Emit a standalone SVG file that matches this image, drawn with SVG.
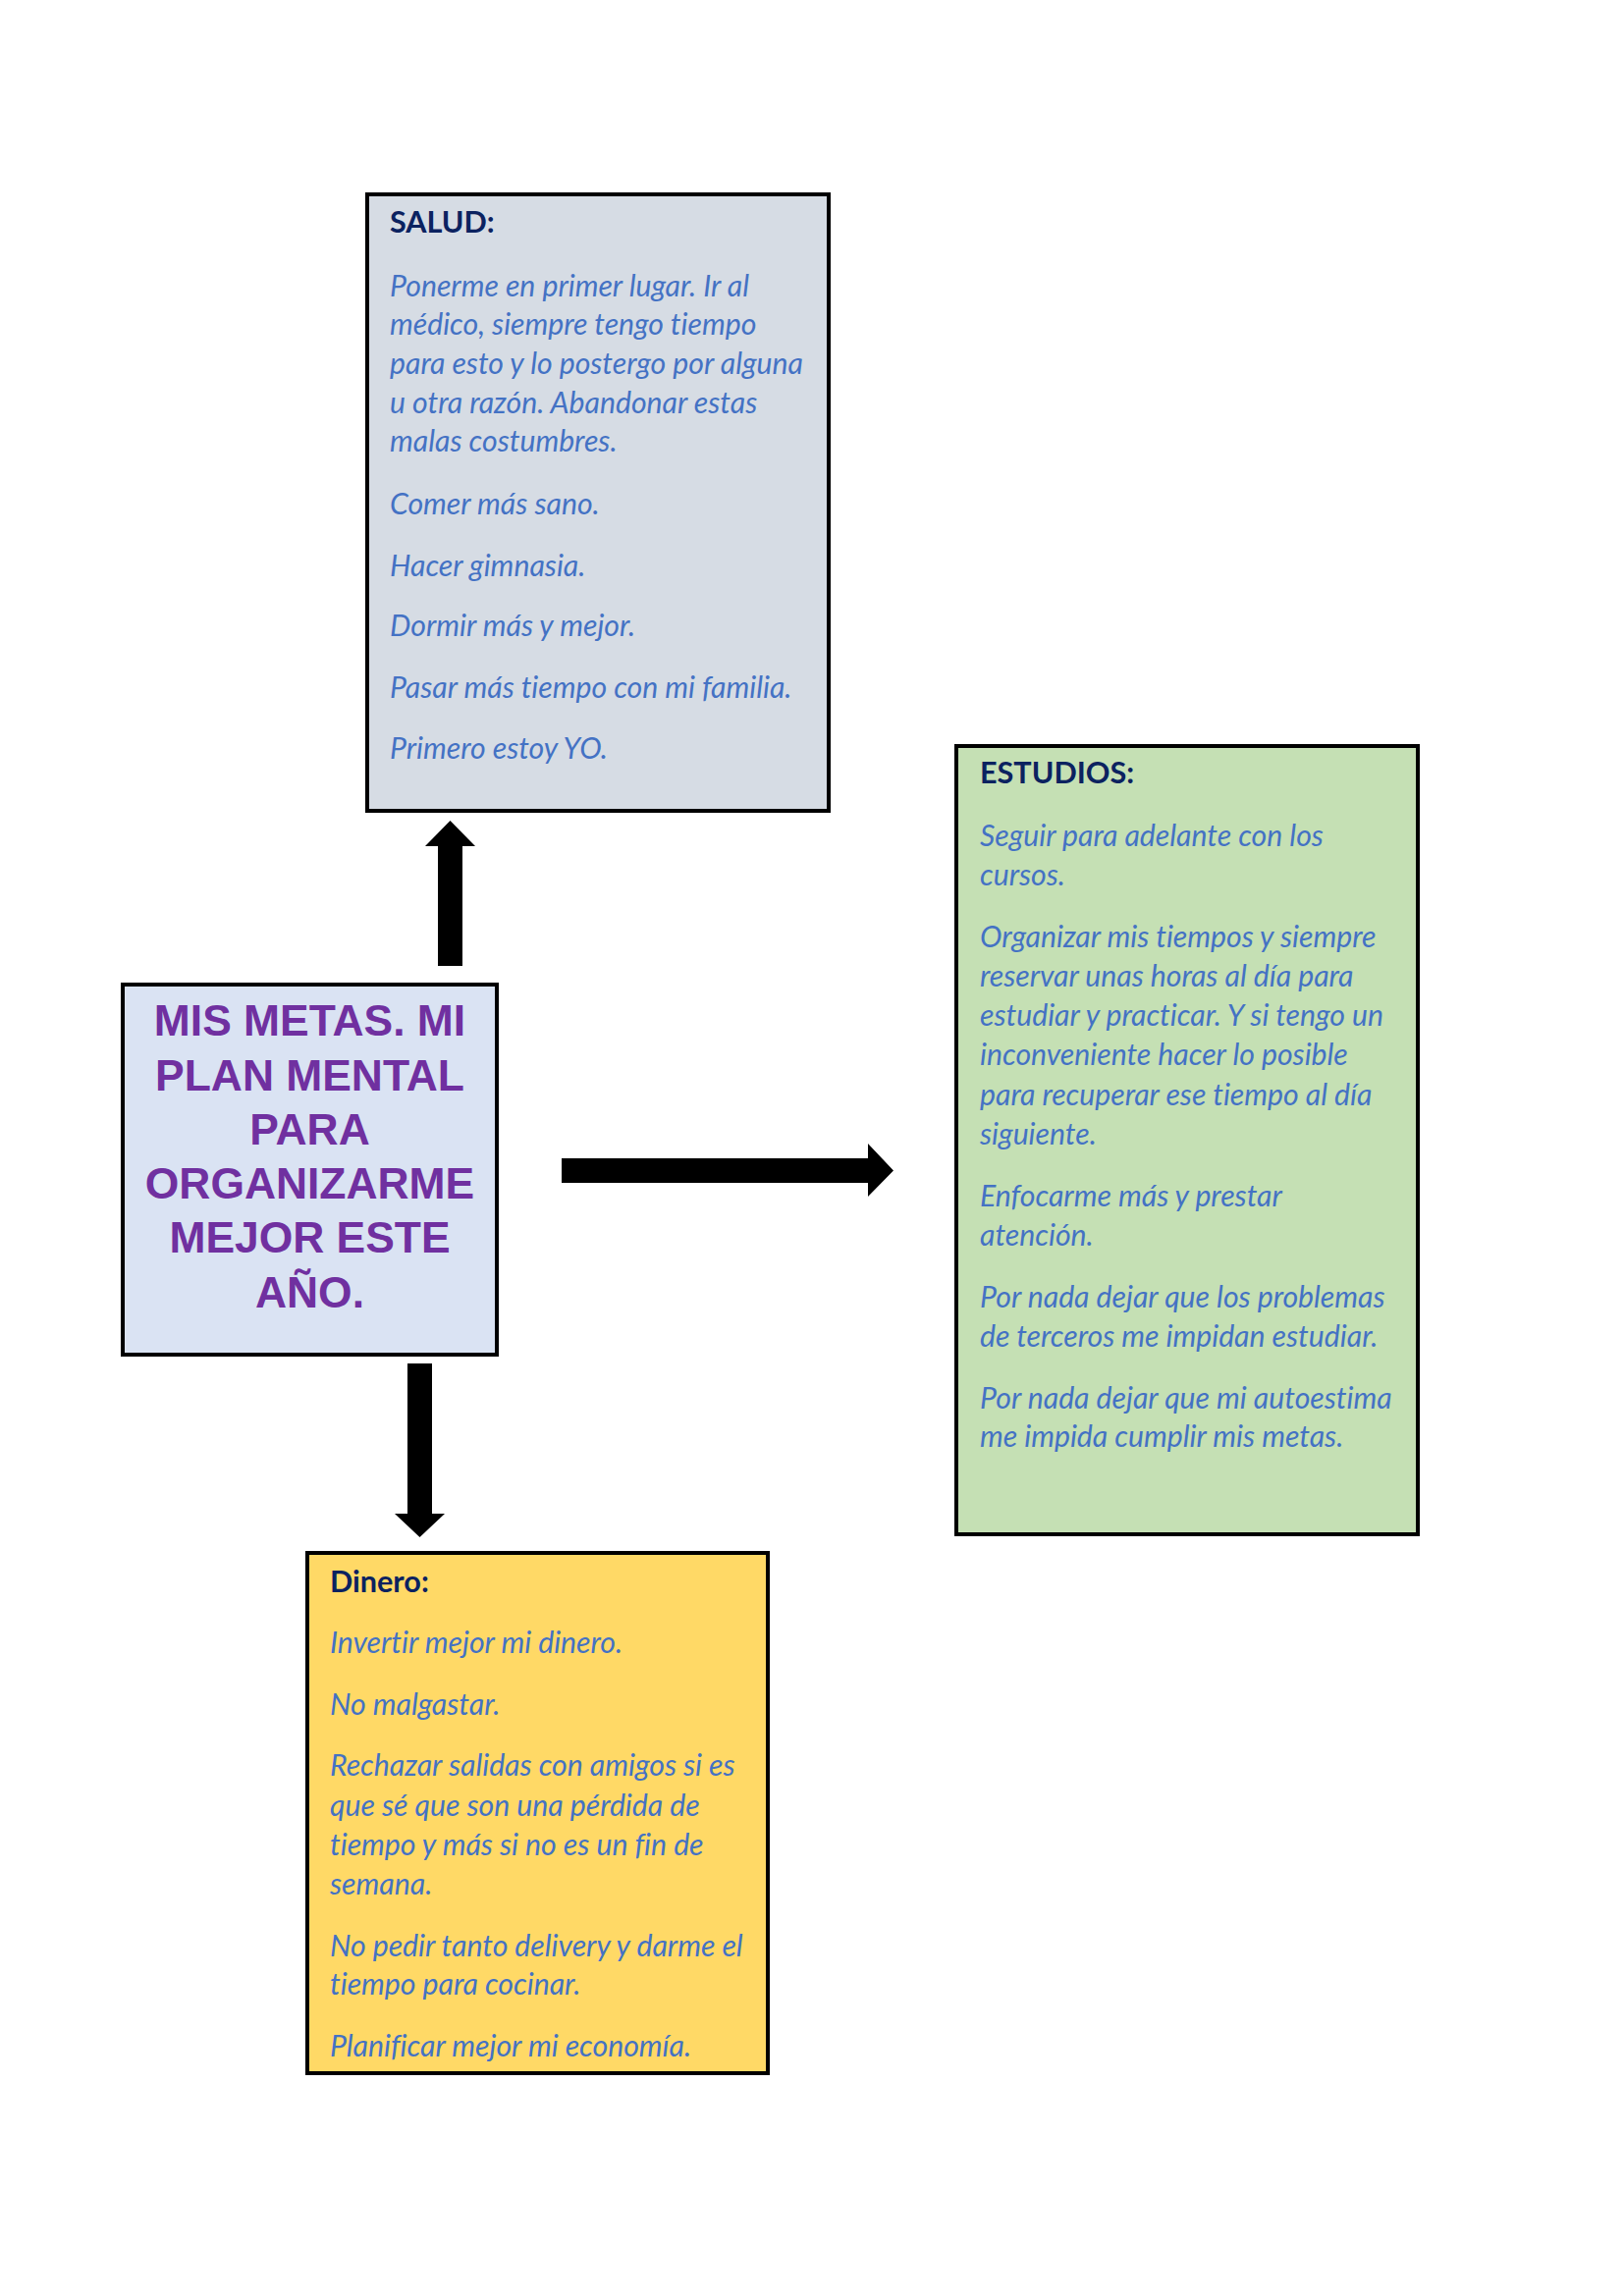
<svg xmlns="http://www.w3.org/2000/svg" width="1654" height="2339" viewBox="0 0 1654 2339">
<style>
.box{stroke:#000;stroke-width:4}
.h{font-family:Lato,"Noto Sans",sans-serif;font-weight:bold;font-size:30.6px;fill:#0B2260}
.t{font-family:Lato,"Noto Sans",sans-serif;font-style:italic;font-size:30.2px;fill:#4472C4;font-variant-ligatures:none}
.c{font-family:"Liberation Sans",Arial,sans-serif;font-weight:bold;font-size:44.4px;fill:#7030A0;text-anchor:middle}
.arrow{fill:#000}
</style>
<rect width="1654" height="2339" fill="#fff"/>
<g id="connectors">
<polygon class="arrow" points="446,984 446,862 433,862 458.5,836 484,862 471,862 471,984"/>
<polygon class="arrow" points="572,1180 884,1180 884,1165 910,1192.5 884,1219 884,1205 572,1205"/>
<polygon class="arrow" points="415,1389 440,1389 440,1542 453,1542 427.5,1566 402,1542 415,1542"/>
</g>
<g id="salud">
<rect class="box" x="374" y="198" width="470" height="628" fill="#D6DCE4"/>
<text class="h" x="397" y="237">SALUD:</text>
<text class="t" x="397" y="302">Ponerme en primer lugar. Ir al</text>
<text class="t" x="397" y="341">médico, siempre tengo tiempo</text>
<text class="t" x="397" y="381">para esto y lo postergo por alguna</text>
<text class="t" x="397" y="421">u otra razón. Abandonar estas</text>
<text class="t" x="397" y="460">malas costumbres.</text>
<text class="t" x="397" y="524">Comer más sano.</text>
<text class="t" x="397" y="587">Hacer gimnasia.</text>
<text class="t" x="397" y="648">Dormir más y mejor.</text>
<text class="t" x="397" y="711">Pasar más tiempo con mi familia.</text>
<text class="t" x="397" y="773">Primero estoy YO.</text>
</g>
<g id="estudios">
<rect class="box" x="974" y="760" width="470" height="803" fill="#C5E0B4"/>
<text class="h" x="998" y="798">ESTUDIOS:</text>
<text class="t" x="998" y="862">Seguir para adelante con los</text>
<text class="t" x="998" y="902">cursos.</text>
<text class="t" x="998" y="965">Organizar mis tiempos y siempre</text>
<text class="t" x="998" y="1005">reservar unas horas al día para</text>
<text class="t" x="998" y="1045">estudiar y practicar. Y si tengo un</text>
<text class="t" x="998" y="1085">inconveniente hacer lo posible</text>
<text class="t" x="998" y="1126">para recuperar ese tiempo al día</text>
<text class="t" x="998" y="1166">siguiente.</text>
<text class="t" x="998" y="1229">Enfocarme más y prestar</text>
<text class="t" x="998" y="1269">atención.</text>
<text class="t" x="998" y="1332">Por nada dejar que los problemas</text>
<text class="t" x="998" y="1372">de terceros me impidan estudiar.</text>
<text class="t" x="998" y="1435">Por nada dejar que mi autoestima</text>
<text class="t" x="998" y="1474">me impida cumplir mis metas.</text>
</g>
<g id="centro">
<rect class="box" x="125" y="1003" width="381" height="377" fill="#DAE3F3"/>
<text class="c" x="315.5" y="1055">MIS METAS. MI</text>
<text class="c" x="315.5" y="1111">PLAN MENTAL</text>
<text class="c" x="315.5" y="1166">PARA</text>
<text class="c" x="315.5" y="1221">ORGANIZARME</text>
<text class="c" x="315.5" y="1276">MEJOR ESTE</text>
<text class="c" x="315.5" y="1332">AÑO.</text>
</g>
<g id="dinero">
<rect class="box" x="313" y="1582" width="469" height="530" fill="#FFD966"/>
<text class="h" x="336" y="1622">Dinero:</text>
<text class="t" x="336" y="1684">Invertir mejor mi dinero.</text>
<text class="t" x="336" y="1747">No malgastar.</text>
<text class="t" x="336" y="1809">Rechazar salidas con amigos si es</text>
<text class="t" x="336" y="1850">que sé que son una pérdida de</text>
<text class="t" x="336" y="1890">tiempo y más si no es un fin de</text>
<text class="t" x="336" y="1930">semana.</text>
<text class="t" x="336" y="1993">No pedir tanto delivery y darme el</text>
<text class="t" x="336" y="2032">tiempo para cocinar.</text>
<text class="t" x="336" y="2095">Planificar mejor mi economía.</text>
</g>
</svg>
